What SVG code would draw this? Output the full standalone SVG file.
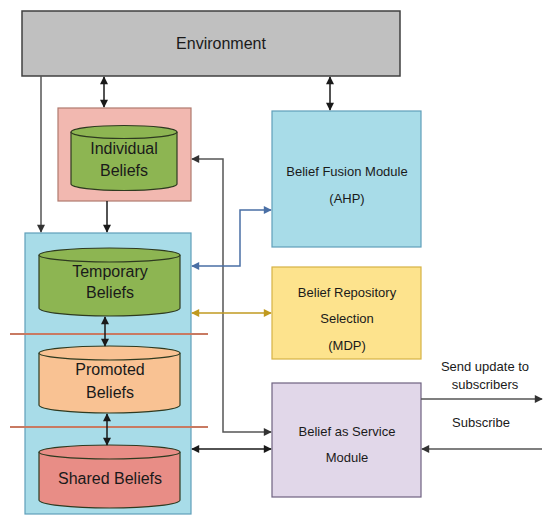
<svg xmlns="http://www.w3.org/2000/svg" width="550" height="522" viewBox="0 0 550 522">
<style>
text{font-family:"Liberation Sans",Arial,sans-serif;fill:#1a1a1a;text-anchor:middle}
.big{font-size:16px}
.sm{font-size:13px}
.cyl{stroke:#2e3a20;stroke-width:1.2}
.c{fill:none;stroke-width:1.5}
.k{stroke:#1a1a1a}
.g{stroke:#555}
.b{stroke:#4a6fa5}
.y{stroke:#c09a20}
.sep{stroke:#c87a62;stroke-width:2}
</style>
<defs>
<marker id="ak" viewBox="0 0 10 10" refX="9" refY="5" markerWidth="9" markerHeight="8" markerUnits="userSpaceOnUse" orient="auto-start-reverse"><path d="M0,0 L10,5 L0,10 z" fill="#1a1a1a"/></marker>
<marker id="ag" viewBox="0 0 10 10" refX="9" refY="5" markerWidth="9" markerHeight="8" markerUnits="userSpaceOnUse" orient="auto-start-reverse"><path d="M0,0 L10,5 L0,10 z" fill="#333"/></marker>
<marker id="ab" viewBox="0 0 10 10" refX="9" refY="5" markerWidth="9" markerHeight="8" markerUnits="userSpaceOnUse" orient="auto-start-reverse"><path d="M0,0 L10,5 L0,10 z" fill="#4a6fa5"/></marker>
<marker id="ay" viewBox="0 0 10 10" refX="9" refY="5" markerWidth="9" markerHeight="8" markerUnits="userSpaceOnUse" orient="auto-start-reverse"><path d="M0,0 L10,5 L0,10 z" fill="#c09a20"/></marker>
</defs>

<g id="environment">
<rect x="22" y="11" width="378" height="65" fill="#c0c0c0" stroke="#404040" stroke-width="1.5"/>
<text class="big" x="221" y="49">Environment</text>
</g>

<g id="individual-box">
<rect x="58" y="108" width="133" height="93" fill="#f2b8b0" stroke="#b07a6e" stroke-width="1.2"/>
</g>
<g id="individual-beliefs">
<path class="cyl" d="M71,132 V184 A53,6.5 0 0 0 177,184 V132" fill="#8db552"/>
<ellipse class="cyl" cx="124" cy="132" rx="53" ry="6.5" fill="#8db552"/>
<text class="big" x="124" y="154">Individual</text>
<text class="big" x="124" y="176">Beliefs</text>
</g>

<g id="repository-container">
<rect x="25" y="233" width="166" height="281" fill="#a8dce8" stroke="#5f9fba" stroke-width="1.2"/>
</g>
<g id="temporary-beliefs">
<path class="cyl" d="M39,255 V308 A70.5,8 0 0 0 180,308 V255" fill="#8db552"/>
<ellipse class="cyl" cx="109.5" cy="255" rx="70.5" ry="7" fill="#8db552"/>
<text class="big" x="110" y="277">Temporary</text>
<text class="big" x="110" y="298">Beliefs</text>
</g>
<g id="promoted-beliefs">
<path class="cyl" d="M39,353 V405 A70.5,8 0 0 0 180,405 V353" fill="#f9c293"/>
<ellipse class="cyl" cx="109.5" cy="353" rx="70.5" ry="7" fill="#f9c293"/>
<text class="big" x="110" y="375">Promoted</text>
<text class="big" x="110" y="398">Beliefs</text>
</g>
<g id="shared-beliefs">
<path class="cyl" d="M39,452 V500 A70.5,8 0 0 0 180,500 V452" fill="#e88d86"/>
<ellipse class="cyl" cx="109.5" cy="452" rx="70.5" ry="7" fill="#e88d86"/>
<text class="big" x="110" y="484">Shared Beliefs</text>
</g>
<g id="separators">
<line class="sep" x1="10" y1="334" x2="208" y2="334"/>
<line class="sep" x1="10" y1="427" x2="208" y2="427"/>
</g>

<g id="fusion-module">
<rect x="272" y="111" width="149" height="136" fill="#a8dce8" stroke="#5f9fba" stroke-width="1.2"/>
<text class="sm" x="347" y="176">Belief Fusion Module</text>
<text class="sm" x="347" y="203">(AHP)</text>
</g>
<g id="repository-selection">
<rect x="272" y="267" width="149" height="92" fill="#fde38d" stroke="#d6b245" stroke-width="1.2"/>
<text class="sm" x="347" y="297">Belief Repository</text>
<text class="sm" x="347" y="323">Selection</text>
<text class="sm" x="347" y="350">(MDP)</text>
</g>
<g id="belief-service">
<rect x="272" y="383" width="149" height="114" fill="#e1d7e9" stroke="#6e6280" stroke-width="1.2"/>
<text class="sm" x="347" y="436">Belief as Service</text>
<text class="sm" x="347" y="462">Module</text>
</g>

<g id="labels">
<text class="sm" x="485" y="371">Send update to</text>
<text class="sm" x="485" y="389">subscribers</text>
<text class="sm" x="481" y="427">Subscribe</text>
</g>

<g id="connectors">
<path class="c g" d="M41,76 V232" marker-end="url(#ag)"/>
<path class="c k" d="M104,77 V107" marker-start="url(#ak)" marker-end="url(#ak)"/>
<path class="c k" d="M330,77 V110" marker-start="url(#ak)" marker-end="url(#ak)"/>
<path class="c k" d="M107,201 V232" marker-end="url(#ak)"/>
<path class="c g" d="M192,159 H223 V432 H271" marker-start="url(#ag)" marker-end="url(#ag)"/>
<path class="c b" d="M192,266 H240 V210 H271" marker-start="url(#ab)" marker-end="url(#ab)"/>
<path class="c y" d="M192,313 H271" marker-start="url(#ay)" marker-end="url(#ay)"/>
<path class="c k" d="M192,449 H271" marker-start="url(#ak)" marker-end="url(#ak)"/>
<path class="c k" d="M105,317 V346" marker-start="url(#ak)" marker-end="url(#ak)"/>
<path class="c k" d="M107,414 V445" marker-start="url(#ak)" marker-end="url(#ak)"/>
<path class="c g" d="M421,399 H542" marker-end="url(#ag)"/>
<path class="c g" d="M542,449 H422" marker-end="url(#ag)"/>
</g>
</svg>
